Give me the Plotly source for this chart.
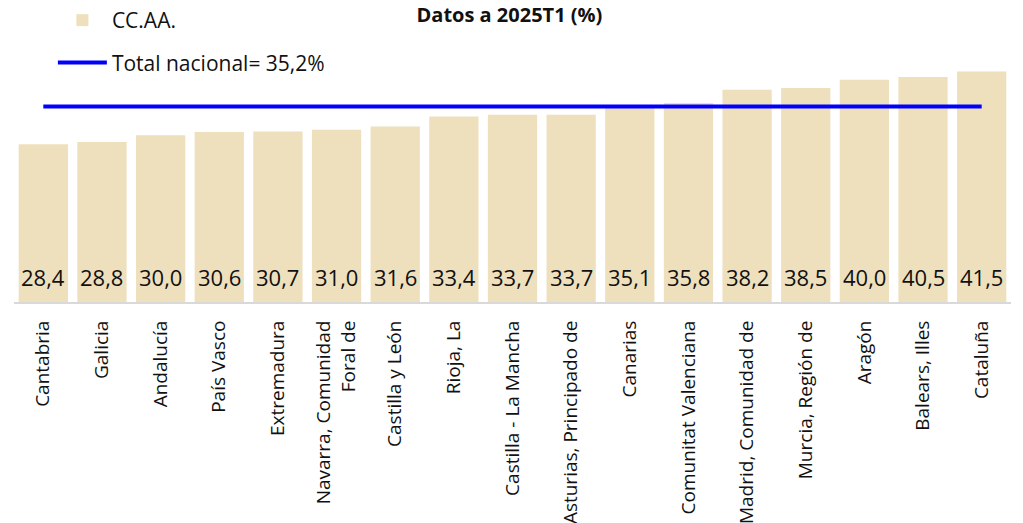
import plotly.graph_objects as go

categories = ["Cantabria", "Galicia", "Andalucía", "País Vasco", "Extremadura",
              "Navarra, Comunidad<br>Foral de", "Castilla y León", "Rioja, La",
              "Castilla - La Mancha", "Asturias, Principado de", "Canarias",
              "Comunitat Valenciana", "Madrid, Comunidad de", "Murcia, Región de",
              "Aragón", "Balears, Illes", "Cataluña"]
values = [28.4, 28.8, 30.0, 30.6, 30.7, 31.0, 31.6, 33.4, 33.7, 33.7, 35.1, 35.8,
          38.2, 38.5, 40.0, 40.5, 41.5]
total_nacional = 35.2
labels = [f"{v:.1f}".replace(".", ",") for v in values]

FONT = "Open Sans"

fig = go.Figure()
fig.add_trace(go.Bar(
    x=categories, y=values, name="CC.AA.",
    marker=dict(color="#EFE0BD", line=dict(width=0)),
    legendgroup="a",
))
fig.add_trace(go.Scatter(
    x=categories, y=[total_nacional] * len(categories), mode="lines",
    name="Total nacional= 35,2%", line=dict(color="#0000FF", width=4),
    legendgroup="b",
))

for c, t in zip(categories, labels):
    fig.add_annotation(x=c, y=0, text=t, showarrow=False, yanchor="bottom",
                       yshift=8, font=dict(size=22, family=FONT, color="#111111"))

fig.update_layout(
    width=1023, height=523,
    margin=dict(l=14, r=12, t=52, b=221, autoexpand=False),
    paper_bgcolor="white", plot_bgcolor="white",
    bargap=0.16,
    font=dict(family=FONT, color="#111111"),
    title=dict(text="<b>Datos a 2025T1 (%)</b>", x=0.498, xanchor="center",
               yref="container", y=0.984, yanchor="top",
               font=dict(size=20, family=FONT)),
    showlegend=True,
    legend=dict(x=0.039, y=1.0, xanchor="left", yanchor="top", yref="container",
                font=dict(size=21, family=FONT), bgcolor="rgba(0,0,0,0)",
                traceorder="grouped", tracegroupgap=12, itemwidth=49),
)
fig.update_xaxes(showline=True, linecolor="#D9D9D9", linewidth=2, tickangle=-90,
                 tickfont=dict(size=19, family=FONT), ticks="outside", ticklen=9,
                 tickcolor="rgba(0,0,0,0)", showgrid=False, automargin=False)
fig.update_yaxes(range=[0, 45], visible=False, showgrid=False, automargin=False)

fig.write_html("out.html", config={"displayModeBar": False},
               post_script="document.body.style.margin='0';")
